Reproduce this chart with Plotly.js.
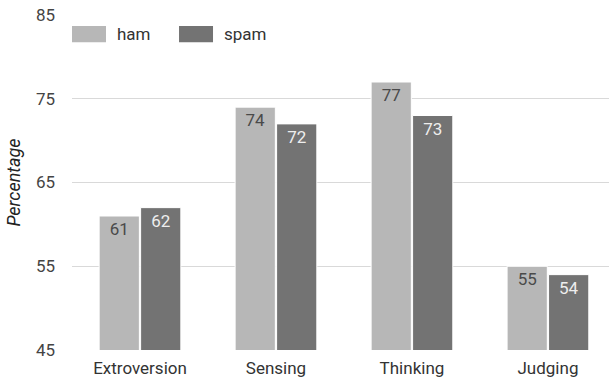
<!DOCTYPE html>
<html><head><meta charset="utf-8">
<script src="https://cdn.plot.ly/plotly-3.0.1.min.js"></script>
<style>html,body{margin:0;padding:0;background:#fff}#chart{width:609px;height:381px}</style>
</head><body><div id="chart"></div>
<script>
const categories = ["Extroversion", "Sensing", "Thinking", "Judging"];
const seriesNames = ["ham", "spam"];
const hamValues = [61, 74, 77, 55];
const spamValues = [62, 72, 73, 54];
const yTicks = [45, 55, 65, 75, 85];

const font = "Roboto, Arial, sans-serif";
const colors = ["#b7b7b7", "#737373"];
const textColors = ["#4a4a4a", "#eeeeee"];
const traces = [hamValues, spamValues].map((vals, i) => ({
  type: "bar", name: seriesNames[i], x: categories, y: vals, text: vals.map(String),
  textposition: "inside", insidetextanchor: "end", textangle: 0,
  textfont: {family: font, size: 17, color: textColors[i]},
  marker: {color: colors[i], line: {width: 1, color: "#ffffff"}}, hoverinfo: "none",
  showlegend: false
}));

// legend drawn as swatches + text (paper coordinates)
const legendPos = [{x0: 0, x1: 0.0633, tx: 0.080}, {x0: 0.1993, x1: 0.2626, tx: 0.2793}];
const shapes = legendPos.map((p, i) => ({
  type: "rect", xref: "paper", yref: "paper", x0: p.x0, x1: p.x1, y0: 0.919, y1: 0.967,
  fillcolor: colors[i], line: {width: 0}
}));
const annotations = legendPos.map((p, i) => ({
  xref: "paper", yref: "paper", x: p.tx, y: 0.943, xanchor: "left", yanchor: "middle",
  text: seriesNames[i], showarrow: false, font: {family: font, size: 17, color: "#333"}
}));

const layout = {
  width: 609, height: 381,
  margin: {l: 72, r: 0, t: 15, b: 31, pad: 0},
  paper_bgcolor: "#fff", plot_bgcolor: "#fff",
  font: {family: font, size: 17, color: "#444"},
  barmode: "group", bargap: 0.39, bargroupgap: 0.03,
  showlegend: false,
  shapes: shapes, annotations: annotations,
  xaxis: {range: [-0.5, 3.449], showgrid: false, zeroline: false, showline: false, ticks: "",
          ticklabelstandoff: 6,
          tickfont: {family: font, size: 17, color: "#333"}, fixedrange: true},
  yaxis: {range: [45, 85], tickvals: yTicks, ticktext: yTicks.map(String), showgrid: true,
          gridcolor: "#d9d9d9", gridwidth: 1, zeroline: false, showline: false, ticks: "",
          ticklabelstandoff: 16,
          tickfont: {family: font, size: 17, color: "#444"},
          title: {text: "<i>Percentage</i>", font: {family: font, size: 18, color: "#222"}, standoff: 10}}
};
Plotly.newPlot("chart", traces, layout, {displayModeBar: false, staticPlot: true});
</script></body></html>
